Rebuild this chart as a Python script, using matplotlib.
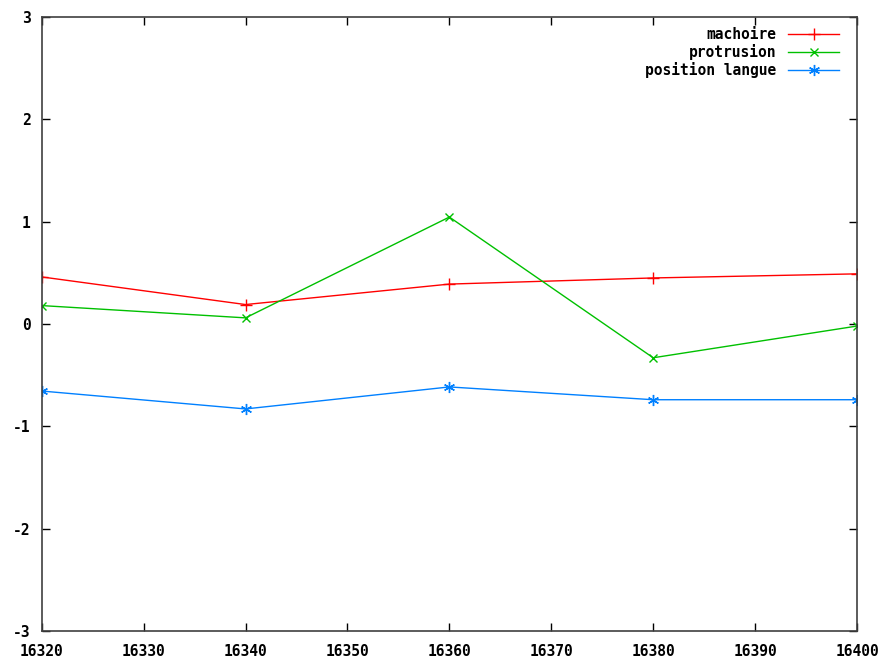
import matplotlib
matplotlib.use("Agg")
import matplotlib.pyplot as plt

# donnees
temps = [16320, 16340, 16360, 16380, 16400]
machoire = [0.46, 0.19, 0.39, 0.45, 0.49]
protrusion = [0.18, 0.06, 1.045, -0.33, -0.02]
position_langue = [-0.655, -0.83, -0.615, -0.74, -0.74]

plt.rcParams['font.family'] = ['DejaVu Sans Mono']
plt.rcParams['font.weight'] = 'bold'
plt.rcParams['axes.unicode_minus'] = False

fig = plt.figure(figsize=(8.85, 6.57), dpi=100)
ax = fig.add_axes([41.7 / 885, 1 - 631 / 657, (857 - 41.7) / 885, (631 - 17) / 657])

ax.plot(temps, machoire, color='#ff0000', marker='+', markersize=8, lw=1, label='machoire')
ax.plot(temps, protrusion, color='#00c000', marker='x', markersize=6, lw=1, label='protrusion')
ax.plot(temps, position_langue, color='#0080ff', marker=(6, 2, 0), markersize=8, lw=1, label='position langue')

ax.set_xlim(16320, 16400)
ax.set_ylim(-3, 3)
ax.set_xticks(range(16320, 16401, 10))
ax.set_yticks(range(-3, 4))
ax.tick_params(direction='in', length=6, width=1, top=True, right=True,
               labelsize=10.5, colors='black')
ax.tick_params(axis='x', pad=9)
ax.tick_params(axis='y', pad=8)
for s in ax.spines.values():
    s.set_color('#404040')
    s.set_linewidth(1.2)
for lab in ax.get_xticklabels() + ax.get_yticklabels():
    lab.set_fontweight('bold')

leg = ax.legend(loc='upper right', bbox_to_anchor=(1 - 6 / 815, 1 + 2 / 614), frameon=False,
                markerfirst=False, handlelength=3.5, fontsize=10.5, borderaxespad=0.4,
                labelspacing=0.15, handletextpad=0.8)
for t in leg.get_texts():
    t.set_fontweight('bold')

fig.savefig('out.png', dpi=100)
